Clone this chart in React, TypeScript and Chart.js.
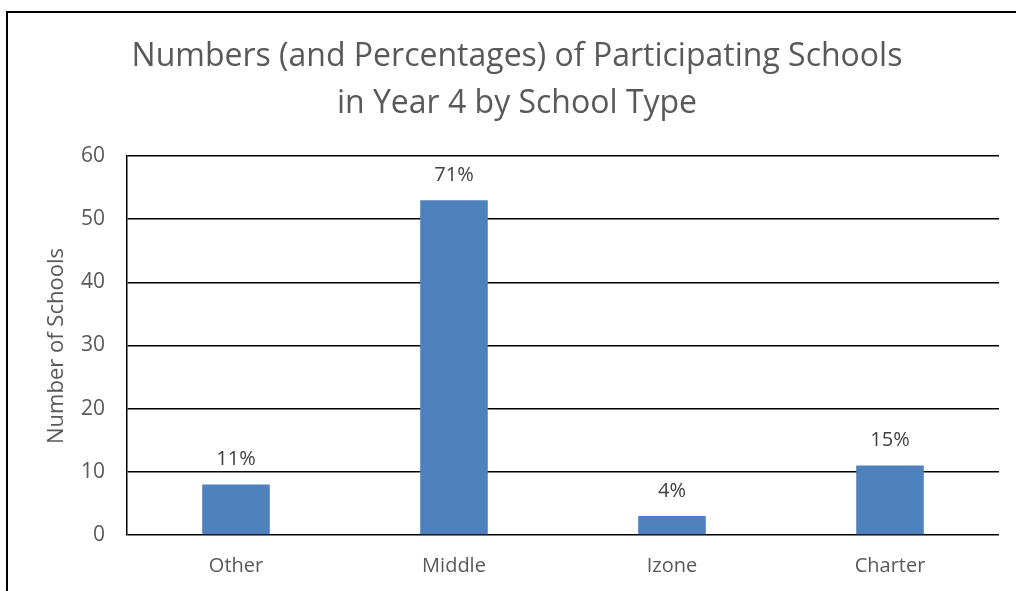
import React, { useEffect, useRef } from "react";
import { Chart, registerables } from "chart.js";

Chart.register(...registerables);

const categories = ["Other", "Middle", "Izone", "Charter"];
const schoolCounts = [8, 53, 3, 11];
const percentLabels = ["11%", "71%", "4%", "15%"];
const yMin = 0;
const yMax = 60;
const yStep = 10;
const titleLines = [
  "Numbers (and Percentages) of Participating Schools",
  "in Year 4 by School Type",
];
const yAxisTitle = "Number of Schools";

const FONT = "'Open Sans', 'Liberation Sans', sans-serif";
const GREY = "#595959";

const decorPlugin = {
  id: "decor",
  beforeDraw(chart: any) {
    const ctx = chart.ctx;
    ctx.save();
    ctx.fillStyle = "#ffffff";
    ctx.fillRect(0, 0, chart.width, chart.height);
    ctx.strokeStyle = "#000000";
    ctx.lineWidth = 2;
    ctx.strokeRect(7, 12, chart.width + 40, chart.height + 40);
    ctx.restore();
  },
  afterDatasetsDraw(chart: any) {
    const ctx = chart.ctx;
    const meta = chart.getDatasetMeta(0);
    ctx.save();
    ctx.fillStyle = "#404040";
    ctx.font = `20px ${FONT}`;
    ctx.textAlign = "center";
    ctx.textBaseline = "middle";
    meta.data.forEach((bar: any, i: number) => {
      ctx.fillText(percentLabels[i], bar.x, bar.y - 25);
    });
    ctx.restore();
  },
  afterDraw(chart: any) {
    const ctx = chart.ctx;
    ctx.save();
    ctx.fillStyle = GREY;
    ctx.font = `32px ${FONT}`;
    ctx.textAlign = "center";
    ctx.textBaseline = "alphabetic";
    ctx.fillText(titleLines[0], 517, 66);
    ctx.fillText(titleLines[1], 517, 113);
    ctx.translate(57, 346);
    ctx.rotate(-Math.PI / 2);
    ctx.font = `22px ${FONT}`;
    ctx.textBaseline = "middle";
    ctx.fillText(yAxisTitle, 0, 0);
    ctx.restore();
  },
};

export default function App() {
  const canvasRef = useRef<HTMLCanvasElement | null>(null);

  useEffect(() => {
    document.body.style.margin = "0";
    const canvas = canvasRef.current;
    if (!canvas) return;
    const chart = new Chart(canvas, {
      type: "bar",
      data: {
        labels: categories,
        datasets: [
          {
            data: schoolCounts,
            backgroundColor: "#4F81BD",
            borderWidth: 0,
            barPercentage: 0.62,
            categoryPercentage: 0.5,
          },
        ],
      },
      options: {
        responsive: false,
        animation: false,
        devicePixelRatio: 1,
        layout: { padding: { top: 156, right: 17, left: 0, bottom: 0 } },
        plugins: {
          legend: { display: false },
          title: { display: false },
          tooltip: { enabled: false },
        },
        scales: {
          x: {
            grid: { display: false, drawTicks: false, tickLength: 0 },
            border: { display: false },
            ticks: { color: GREY, font: { family: FONT, size: 20 }, padding: 19 },
            afterFit(scale: any) {
              scale.height = 56;
            },
          },
          y: {
            min: yMin,
            max: yMax,
            ticks: {
              stepSize: yStep,
              color: GREY,
              font: { family: FONT, size: 21 },
              padding: 22,
            },
            grid: { color: "#000000", lineWidth: 1.5, drawTicks: false, tickLength: 0 },
            border: { display: true, color: "#000000", width: 1.5 },
            afterFit(scale: any) {
              scale.width = 127;
            },
          },
        },
      },
      plugins: [decorPlugin],
    });
    return () => chart.destroy();
  }, []);

  return (
    <div style={{ position: "absolute", left: 0, top: 0, width: 1016, height: 591 }}>
      <canvas ref={canvasRef} width={1016} height={591} />
    </div>
  );
}
